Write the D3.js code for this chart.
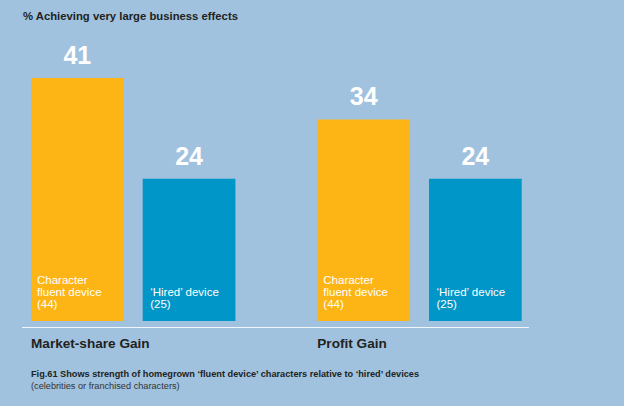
<!DOCTYPE html>
<html>
<head>
<meta charset="utf-8">
<script src="https://cdn.jsdelivr.net/npm/d3@7"></script>
<style>
  html, body { margin: 0; padding: 0; background: #a0c2de; }
  svg { display: block; font-family: "Liberation Sans", Arial, Helvetica, sans-serif; }
</style>
</head>
<body>
<svg id="chart" width="624" height="406"></svg>
<script>
const categories = ['Market-share Gain', 'Profit Gain'];
const series = ['fluent', 'hired'];
const seriesLabels = [
  ['Character', 'fluent device', '(44)'],
  ['\u2018Hired\u2019 device', '(25)']
];
const fluentValues = [41, 34];
const hiredValues = [24, 24];

const colors = { fluent: '#fdb515', hired: '#0096c8' };
const width = 624, height = 406;
const baseY = 321;

const svg = d3.select('#chart');

svg.append('rect')
  .attr('width', width)
  .attr('height', height)
  .attr('fill', '#a0c2de');

const x0 = d3.scaleBand()
  .domain(categories)
  .range([31, 31 + 286.3 * 2]);

const x1 = d3.scaleBand()
  .domain(series)
  .range([0, 204.4])
  .paddingInner(0.17)
  .paddingOuter(0);

const y = d3.scaleLinear()
  .domain([0, 41])
  .range([baseY, 78]);

const rows = categories.map((c, i) => ({
  category: c,
  values: [
    { key: 'fluent', value: fluentValues[i], label: seriesLabels[0] },
    { key: 'hired', value: hiredValues[i], label: seriesLabels[1] }
  ]
}));

// title
svg.append('text')
  .attr('x', 23)
  .attr('y', 20)
  .attr('font-size', 11.3)
  .attr('font-weight', 'bold')
  .attr('fill', '#222')
  .text('% Achieving very large business effects');

const $group = svg.selectAll('g.group')
  .data(rows)
  .join('g')
  .attr('class', 'group')
  .attr('transform', d => `translate(${x0(d.category)},0)`);

const $bar = $group.selectAll('g.bar')
  .data(d => d.values)
  .join('g')
  .attr('class', 'bar')
  .attr('transform', d => `translate(${x1(d.key)},0)`);

$bar.append('rect')
  .attr('x', 0)
  .attr('y', d => y(d.value))
  .attr('width', x1.bandwidth())
  .attr('height', d => y(0) - y(d.value))
  .attr('fill', d => colors[d.key]);

// value labels above bars
$bar.append('text')
  .attr('x', x1.bandwidth() / 2)
  .attr('y', d => y(d.value) - 14)
  .attr('text-anchor', 'middle')
  .attr('font-size', 25)
  .attr('font-weight', 'bold')
  .attr('fill', '#fff')
  .text(d => d.value);

// series labels inside bars, bottom aligned
$bar.each(function(d) {
  const lines = d.label;
  const lh = 12;
  d3.select(this).selectAll('text.inner')
    .data(lines)
    .join('text')
    .attr('class', 'inner')
    .attr('x', d.key === 'fluent' ? 6 : 7.5)
    .attr('y', (l, i) => 308 - (lines.length - 1 - i) * lh)
    .attr('font-size', 11.5)
    .attr('fill', '#fff')
    .text(l => l);
});

// category labels
$group.append('text')
  .attr('x', 0)
  .attr('y', 348)
  .attr('font-size', 13.6)
  .attr('font-weight', 'bold')
  .attr('fill', '#222')
  .text(d => d.category);

// baseline
svg.append('line')
  .attr('x1', 22)
  .attr('x2', 529)
  .attr('y1', 327.5)
  .attr('y2', 327.5)
  .attr('stroke', '#f2f6fa')
  .attr('stroke-width', 1);

// caption
svg.append('text')
  .attr('x', 31)
  .attr('y', 377)
  .attr('font-size', 9.2)
  .attr('font-weight', 'bold')
  .attr('fill', '#222')
  .text('Fig.61 Shows strength of homegrown \u2018fluent device\u2019 characters relative to \u2018hired\u2019 devices');

svg.append('text')
  .attr('x', 31)
  .attr('y', 389)
  .attr('font-size', 9.2)
  .attr('fill', '#333')
  .text('(celebrities or franchised characters)');
</script>
</body>
</html>
